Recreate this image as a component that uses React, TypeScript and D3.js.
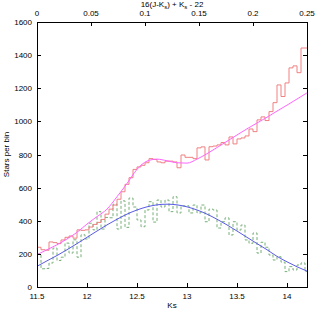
import React, { useEffect, useRef } from "react";
import * as d3 from "d3";

// histogram bins (Ks), 0.04 wide starting at 11.5
const binStart = 11.5;
const binWidth = 0.04;

const redCounts = [
  240, 225, 222, 272, 268, 262, 284, 300, 308, 295, 345, 342, 345, 362, 378, 390, 408, 440,
  470, 495, 530, 575, 620, 660, 710, 725, 735, 750, 775, 770, 755, 750, 760, 760, 755, 720,
  797, 783, 783, 775, 840, 846, 767, 847, 851, 858, 872, 858, 906, 864, 894, 900, 912, 954,
  938, 1009, 1027, 1005, 1059, 1113, 1220, 1150, 1232, 1323, 1335, 1294, 1443, 1443,
];

const greenCounts = [
  200, 110, 112, 145, 235, 160, 180, 265, 205, 285, 180, 315, 290, 385, 345, 455, 350, 420,
  418, 500, 350, 520, 360, 537, 483, 405, 364, 465, 515, 392, 525, 483, 525, 455, 545, 447,
  490, 490, 447, 495, 447, 495, 394, 470, 465, 356, 394, 417, 314, 394, 344, 374, 284, 264,
  326, 205, 270, 240, 193, 163, 183, 150, 93, 123, 103, 133, 145, 93,
];

// smooth fits
const fitKs = [
  11.5, 11.6, 11.7, 11.8, 11.9, 12.0, 12.1, 12.2, 12.3, 12.4, 12.5, 12.6, 12.7, 12.8, 12.9,
  13.0, 13.1, 13.2, 13.3, 13.4, 13.5, 13.6, 13.7, 13.8, 13.9, 14.0, 14.1, 14.2,
];
const magentaFit = [
  195, 225, 255, 290, 330, 380, 425, 470, 545, 625, 710, 760, 772, 762, 750,
  748, 772, 805, 842, 880, 918, 955, 990, 1025, 1062, 1098, 1135, 1172,
];
const blueFit = [
  125, 158, 190, 225, 262, 300, 338, 375, 409, 440, 465, 484, 496, 500, 496,
  484, 465, 440, 409, 375, 338, 300, 262, 225, 185, 152, 122, 96,
];

const yTicks = [0, 200, 400, 600, 800, 1000, 1200, 1400, 1600];
const xTicks = [11.5, 12, 12.5, 13, 13.5, 14];
const topTicks = [0, 0.05, 0.1, 0.15, 0.2, 0.25];

const W = 316;
const H = 314;
const left = 37;
const right = 307;
const top = 22;
const bottom = 287;
const font = "'Liberation Sans', Arial, sans-serif";

export default function App() {
  const ref = useRef(null);

  useEffect(() => {
    const svg = d3.select(ref.current);
    svg.selectAll("*").remove();

    const x = d3.scaleLinear().domain([11.5, 14.2]).range([left, right]);
    const xTop = d3.scaleLinear().domain([0, 0.25]).range([left, right]);
    const y = d3.scaleLinear().domain([0, 1600]).range([bottom, top]);

    svg
      .append("defs")
      .append("clipPath")
      .attr("id", "plot")
      .append("rect")
      .attr("x", left)
      .attr("y", top)
      .attr("width", right - left)
      .attr("height", bottom - top);

    const g = svg.append("g").attr("clip-path", "url(#plot)");

    const steps = (counts) => {
      const pts = counts.map((c, i) => [binStart + i * binWidth, c]);
      pts.push([binStart + counts.length * binWidth, counts[counts.length - 1]]);
      return pts;
    };
    const stepLine = d3
      .line()
      .x((d) => x(d[0]))
      .y((d) => y(d[1]))
      .curve(d3.curveStepAfter);

    g.append("path")
      .datum(steps(greenCounts))
      .attr("fill", "none")
      .attr("stroke", "#78b078")
      .attr("stroke-width", 1)
      .attr("stroke-dasharray", "3,2")
      .attr("d", stepLine);

    g.append("path")
      .datum(steps(redCounts))
      .attr("fill", "none")
      .attr("stroke", "#f08080")
      .attr("stroke-width", 1)
      .attr("d", stepLine);

    const fitLine = (vals) =>
      d3
        .line()
        .x((d, i) => x(fitKs[i]))
        .y((d) => y(d))
        .curve(d3.curveMonotoneX)(vals);

    g.append("path")
      .attr("d", fitLine(magentaFit))
      .attr("fill", "none")
      .attr("stroke", "#ff66ff")
      .attr("stroke-width", 1);

    g.append("path")
      .attr("d", fitLine(blueFit))
      .attr("fill", "none")
      .attr("stroke", "#5a5ae8")
      .attr("stroke-width", 1);

    // frame
    svg
      .append("rect")
      .attr("x", left + 0.5)
      .attr("y", top + 0.5)
      .attr("width", right - left)
      .attr("height", bottom - top)
      .attr("fill", "none")
      .attr("stroke", "#000")
      .attr("stroke-width", 1);

    const ticks = svg.append("g").attr("stroke", "#000").attr("stroke-width", 1);
    yTicks.forEach((t) => {
      const yy = Math.round(y(t)) + 0.5;
      ticks.append("line").attr("x1", left).attr("x2", left + 4).attr("y1", yy).attr("y2", yy);
      ticks.append("line").attr("x1", right - 4).attr("x2", right).attr("y1", yy).attr("y2", yy);
    });
    xTicks.forEach((t) => {
      const xx = Math.round(x(t)) + 0.5;
      ticks.append("line").attr("x1", xx).attr("x2", xx).attr("y1", bottom).attr("y2", bottom - 4);
    });
    topTicks.forEach((t) => {
      const xx = Math.round(xTop(t)) + 0.5;
      ticks.append("line").attr("x1", xx).attr("x2", xx).attr("y1", top).attr("y2", top + 4);
    });

    const txt = svg.append("g").attr("font-family", font).attr("font-size", 8).attr("fill", "#000");
    yTicks.forEach((t) => {
      txt.append("text").attr("x", left - 5).attr("y", y(t) + 3).attr("text-anchor", "end").text(t);
    });
    xTicks.forEach((t) => {
      txt.append("text").attr("x", x(t)).attr("y", bottom + 12).attr("text-anchor", "middle").text(t);
    });
    topTicks.forEach((t) => {
      txt.append("text").attr("x", xTop(t)).attr("y", top - 6).attr("text-anchor", "middle").text(t);
    });

    txt
      .append("text")
      .attr("x", (left + right) / 2)
      .attr("y", H - 6)
      .attr("text-anchor", "middle")
      .text("Ks");

    txt
      .append("text")
      .attr("transform", `translate(9,${(top + bottom) / 2}) rotate(-90)`)
      .attr("text-anchor", "middle")
      .text("Stars per bin");

    const title = txt
      .append("text")
      .attr("x", (left + right) / 2)
      .attr("y", 7)
      .attr("text-anchor", "middle");
    title.append("tspan").text("16(J-K");
    title.append("tspan").attr("font-size", 6).attr("dy", 2).text("s");
    title.append("tspan").attr("dy", -2).text(") + K");
    title.append("tspan").attr("font-size", 6).attr("dy", 2).text("s");
    title.append("tspan").attr("dy", -2).text(" - 22");
  }, []);

  return (
    <svg
      ref={ref}
      width={W}
      height={H}
      style={{ position: "absolute", left: 0, top: 0, background: "#fff" }}
    />
  );
}
